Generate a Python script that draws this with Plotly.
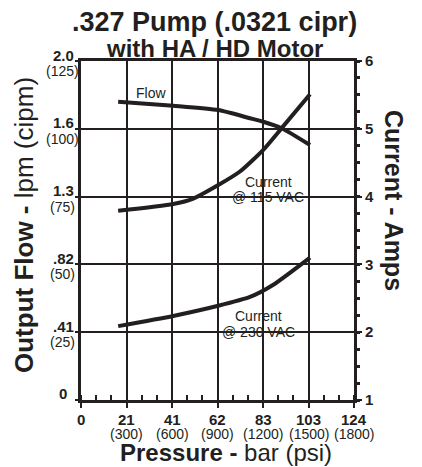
import plotly.graph_objects as go

# ---- data ----
psi_flow = [245, 608, 905, 1114, 1202, 1323, 1510]
flow_cipm = [110.0, 108.5, 106.9, 103.9, 102.6, 100.2, 94.0]

psi_115 = [245, 608, 740, 905, 1048, 1202, 1323, 1510]
amps_115 = [3.79, 3.89, 3.97, 4.17, 4.37, 4.69, 5.01, 5.51]

psi_230 = [245, 608, 905, 1114, 1268, 1510]
amps_230 = [2.09, 2.24, 2.39, 2.52, 2.70, 3.10]

x_tickvals = [0, 300, 600, 900, 1200, 1500, 1800]
x_bar = ["0", "21", "41", "62", "83", "103", "124"]
x_psi = ["", "(300)", "(600)", "(900)", "(1200)", "(1500)", "(1800)"]

y_tickvals = [0, 25, 50, 75, 100, 125]
y_lpm = ["0", ".41", ".82", "1.3", "1.6", "2.0"]
y_cipm = ["", "(25)", "(50)", "(75)", "(100)", "(125)"]

amp_ticks = [1, 2, 3, 4, 5, 6]

FONT = "Liberation Sans, Arial, sans-serif"
INK = "#231f20"

fig = go.Figure()
line_style = dict(color=INK, width=4, shape="spline", smoothing=0.6)
fig.add_trace(go.Scatter(x=psi_flow, y=flow_cipm, mode="lines", line=line_style,
                         yaxis="y", hoverinfo="skip"))
fig.add_trace(go.Scatter(x=psi_115, y=amps_115, mode="lines", line=line_style,
                         yaxis="y2", hoverinfo="skip"))
fig.add_trace(go.Scatter(x=psi_230, y=amps_230, mode="lines", line=line_style,
                         yaxis="y2", hoverinfo="skip"))

W, H = 422, 467
L, R, T, B = 81, 68, 61, 67
pw, ph = W - L - R, H - T - B

fig.update_layout(
    width=W, height=H,
    margin=dict(l=L, r=R, t=T, b=B),
    paper_bgcolor="white", plot_bgcolor="white",
    showlegend=False,
    font=dict(family=FONT, color=INK, size=14),
    xaxis=dict(
        range=[0, 1800], tickvals=x_tickvals, showticklabels=False,
        showgrid=True, gridcolor=INK, gridwidth=1.5,
        showline=True, linecolor=INK, linewidth=3, mirror=True,
        ticks="outside", ticklen=5, tickwidth=2, tickcolor=INK,
        minor=dict(dtick=100, tick0=0, ticks="inside", ticklen=5, tickwidth=2,
                   tickcolor=INK, showgrid=False),
        zeroline=False, fixedrange=True, automargin=False,
    ),
    yaxis=dict(
        range=[0, 125], tickvals=y_tickvals, showticklabels=False,
        showgrid=True, gridcolor=INK, gridwidth=1.5,
        showline=True, linecolor=INK, linewidth=3,
        ticks="outside", ticklen=3, tickwidth=2, tickcolor=INK,
        zeroline=False, fixedrange=True, automargin=False,
    ),
    yaxis2=dict(
        range=[1, 6], tickvals=amp_ticks, ticktext=[f"<b>{v}</b>" for v in amp_ticks],
        overlaying="y", side="right", showgrid=False,
        showline=True, linecolor=INK, linewidth=3,
        ticks="outside", ticklen=5, tickwidth=2, tickcolor=INK,
        minor=dict(dtick=0.25, tick0=1, ticks="outside", ticklen=3, tickwidth=3,
                   tickcolor=INK, showgrid=False),
        zeroline=False, fixedrange=True, automargin=False,
        tickfont=dict(size=15),
    ),
)

def px_ann(text, x, y, size, angle=0):
    return dict(text=text, x=(x - L) / pw, y=(H - B - y) / ph,
                xref="paper", yref="paper", xanchor="center", yanchor="middle",
                showarrow=False, textangle=angle, font=dict(size=size))

anns = [
    px_ann("<b>.327 Pump (.0321 cipr)</b>", 214, 22, 27),
    px_ann("<b>with HA / HD Motor</b>", 214, 49, 24),
    px_ann("<b>Output Flow -</b> lpm (cipm)", 24, 225, 26, -90),
    px_ann("<b>Current - Amps</b>", 394, 200, 25, 90),
    px_ann("<b>Pressure -</b> bar (psi)", 226, 452, 24),
    px_ann("Flow", 151, 93, 14),
    px_ann("Current", 268, 182, 14),
    px_ann("@ 115 VAC", 268, 197, 14),
    px_ann("Current", 258, 316, 14),
    px_ann("@ 230 VAC", 258, 332, 14),
]

# bottom axis tick labels (bar row + psi row), positioned by the x scale
for v, b, s in zip(x_tickvals, x_bar, x_psi):
    anns.append(dict(text=f"<b>{b}</b>", x=v, xref="x", y=(H - B - 419) / ph, yref="paper",
                     xanchor="center", yanchor="middle", showarrow=False, font=dict(size=15)))
    if s:
        anns.append(dict(text=s, x=v, xref="x", y=(H - B - 434) / ph, yref="paper",
                         xanchor="center", yanchor="middle", showarrow=False, font=dict(size=14)))

# left axis tick labels (lpm row + cipm row), positioned by the y scale
for v, b, s in zip(y_tickvals, y_lpm, y_cipm):
    anns.append(dict(text=f"<b>{b}</b>", x=(63 - L) / pw, xref="paper", y=v, yref="y",
                     yshift=6 if s else 7, xanchor="center", yanchor="middle",
                     showarrow=False, font=dict(size=15)))
    if s:
        anns.append(dict(text=s, x=(62 - L) / pw, xref="paper", y=v, yref="y",
                         yshift=-10, xanchor="center", yanchor="middle",
                         showarrow=False, font=dict(size=14)))

fig.update_layout(annotations=anns)

fig.write_html("out.html", post_script="document.body.style.margin='0px';",
               config={"displayModeBar": False})
